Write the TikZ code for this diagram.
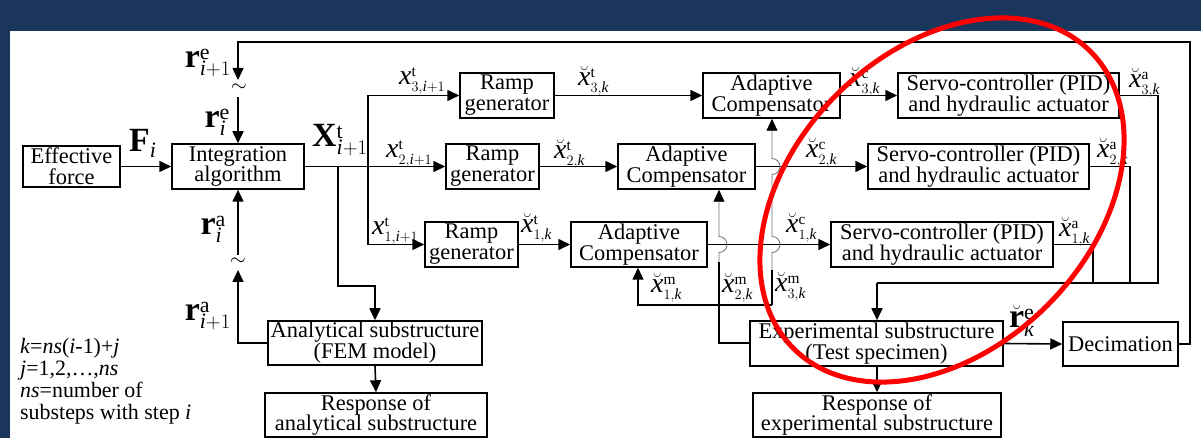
\documentclass[tikz,border=0pt]{standalone}
\usepackage{fontspec}
\setmainfont{Liberation Serif}
\usetikzlibrary{arrows.meta}
\definecolor{bgblue}{RGB}{27,54,93}
\DeclareMathSizes{34}{34}{22}{16}
\DeclareMathSizes{28}{28}{15.5}{11}
\newcommand\xbr[2]{$\breve{\mathit{x}}^{\mathrm{#1}}_{#2,\mathit{k}}$}
\newcommand\xti[2]{$\mathit{x}^{\mathrm{#1}}_{#2,\mathit{i}+1}$}
\tikzset{
  box/.style={draw, line width=1.5bp, inner sep=0pt, align=center,
    font=\fontsize{22.5}{21}\selectfont, minimum height=45bp},
  conn/.style={line width=1.6bp},
  arr/.style={conn, -{Triangle[length=12bp,width=11bp]}},
  thinc/.style={line width=0.8bp, black!55, -{Triangle[length=12bp,width=11bp,black]}},
  lbl/.style={font=\fontsize{22}{22}\selectfont, inner sep=0pt},
  big/.style={font=\fontsize{34}{34}\selectfont, inner sep=0pt},
  tl/.style={font=\fontsize{28}{28}\selectfont, inner sep=0pt, anchor=base west},
}
\begin{document}
\begin{tikzpicture}[x=1bp,y=-1bp]
\useasboundingbox (0,0) rectangle (1201,438);
\fill[bgblue] (0,0) rectangle (1201,438);
\fill[white] (10,31) rectangle (1201,438);

% boxes
\node[box, minimum width=97bp, minimum height=41bp] (eff) at (71.5,166.5) {Effective\\force};
\node[box, minimum width=132bp] (integ) at (238,166.5) {Integration\\algorithm};
\node[box, minimum width=94bp] (ramp3) at (507,95.5) {Ramp\\generator};
\node[box, minimum width=93bp] (ramp2) at (492.5,166.5) {Ramp\\generator};
\node[box, minimum width=93bp] (ramp1) at (471.5,244.5) {Ramp\\generator};
\node[box, minimum width=137bp] (adap3) at (771.5,95.5) {Adaptive\\Compensator};
\node[box, minimum width=137bp] (adap2) at (686.5,166.5) {Adaptive\\Compensator};
\node[box, minimum width=136bp] (adap1) at (639,244.5) {Adaptive\\Compensator};
\node[box, minimum width=221bp] (servo3) at (1008.5,95.5) {Servo-controller (PID)\\and hydraulic actuator};
\node[box, minimum width=221bp] (servo2) at (978.5,166.5) {Servo-controller (PID)\\and hydraulic actuator};
\node[box, minimum width=222bp] (servo1) at (942,244.5) {Servo-controller (PID)\\and hydraulic actuator};
\node[box, minimum width=214bp, minimum height=44bp] (anal) at (375,343) {Analytical substructure\\(FEM model)};
\node[box, minimum width=222bp, minimum height=44bp] (respA) at (376,415) {Response of\\analytical substructure};
\node[box, minimum width=253bp] (exper) at (876.5,343.5) {Experimental substructure\\(Test specimen)};
\node[box, minimum width=115bp, minimum height=44bp] (decim) at (1120.5,344) {Decimation};
\node[box, minimum width=248bp, minimum height=44bp] (respE) at (877,415) {Response of\\experimental substructure};

% coordinates
\coordinate (reTop) at (238,80);
\coordinate (reMid) at (238,97);
\coordinate (raBot) at (238,270);
\coordinate (raMid) at (238,255);
\coordinate (bx) at (368,166.5);
\coordinate (ba) at (338,166.5);
\coordinate (baC) at (338,286);
\coordinate (c3) at (1158,283);
\coordinate (c2) at (1130,283);
\coordinate (c1) at (1093,283);
\coordinate (cA) at (877,283);
\coordinate (mtwo) at (719,343);
\coordinate (mj) at (772,305);
\coordinate (mone) at (638,305);

% connectors
\draw[arr] (eff.east) -- (integ.west);
\draw[arr] (decim.east) -- ++(11,0) |- (238,42) -- (reTop);
\draw[arr] (reMid) -- (integ.north);
\draw[arr] (anal.west) -| (raBot);
\draw[arr] (raMid) -- (integ.south);
\draw[conn] (integ.east) -- (bx);
\draw[arr] (bx) |- (ramp3.west);
\draw[arr] (bx) -- (ramp2.west);
\draw[arr] (bx) |- (ramp1.west);
\draw[arr] (ba) -- (baC) -| (anal.north);
\draw[arr] (anal.south) -- (respA.north);
\draw[arr] (ramp3.east) -- (adap3.west);
\draw[arr] (ramp2.east) -- (adap2.west);
\draw[arr] (ramp1.east) -- (adap1.west);
\draw[arr] (adap3.east) -- (servo3.west);
\draw[arr] (adap2.east) -- (servo2.west);
\draw[arr] (adap1.east) -- (servo1.west);
\draw[conn] (servo3.east) -| (c3) -- (cA);
\draw[conn] (servo2.east) -| (c2);
\draw[conn] (servo1.east) -| (c1);
\draw[arr] (cA) -- (exper.north -| cA);
\draw[arr] (exper.east) -- (decim.west);
\draw[arr] (exper.south -| cA) -- (respE.north -| cA);
% measured feedback
\draw[conn] (exper.west |- mtwo) -- (mtwo) -- (719,262);
\draw[thinc] (719,262) -- (719,252.5) arc[start angle=90,end angle=-90,radius=8] -- (adap2.south -| mtwo);
\draw[arr] (mj) -- (mone) -- (adap1.south -| mone);
\draw[conn] (mj) -- (772,270);
\draw[thinc] (772,270) -- (772,252.5) arc[start angle=90,end angle=-90,radius=8]
  -- (772,174.5) arc[start angle=90,end angle=-90,radius=8] -- (adap3.south -| mj);

% labels
\node[big, anchor=base west] (lF) at (129,152) {$\mathbf{F}_{\mathit{i}}$};
\node[big, anchor=base east] (lre1) at (231,68) {$\mathbf{r}^{\mathrm{e}}_{\mathit{i}+1}$};
\node[big, anchor=base east] (lre0) at (230,128) {$\mathbf{r}^{\mathrm{e}}_{\mathit{i}}$};
\node[big, anchor=base east] (lra0) at (226,235) {$\mathbf{r}^{\mathrm{a}}_{\mathit{i}}$};
\node[big, anchor=base east] (lra1) at (231,321) {$\mathbf{r}^{\mathrm{a}}_{\mathit{i}+1}$};
\node[lbl] (tl1) at (239,88) {$\sim$};
\node[lbl] (tl2) at (238,262) {$\sim$};
\node[big, anchor=base west] (lX) at (312,147) {$\mathbf{X}^{\mathrm{t}}_{\mathit{i}+1}$};
\node[tl] (l31) at (399,85) {\xti{t}{3}};
\node[tl] (l21) at (386,158) {\xti{t}{2}};
\node[tl] (l11) at (372,235) {\xti{t}{1}};
\node[tl] (lt3) at (578,86) {\xbr{t}{3}};
\node[tl] (lt2) at (554,159) {\xbr{t}{2}};
\node[tl] (lt1) at (521,233) {\xbr{t}{1}};
\node[tl] (lc3) at (849,87) {\xbr{c}{3}};
\node[tl] (lc2) at (806,158) {\xbr{c}{2}};
\node[tl] (lc1) at (786,233) {\xbr{c}{1}};
\node[tl] (la3) at (1129,88) {\xbr{a}{3}};
\node[tl] (la2) at (1097,158) {\xbr{a}{2}};
\node[tl] (la1) at (1059,237) {\xbr{a}{1}};
\node[tl] (lm1) at (651,293) {\xbr{m}{1}};
\node[tl] (lm2) at (722,293) {\xbr{m}{2}};
\node[tl] (lm3) at (775,292) {\xbr{m}{3}};
\node[big, anchor=base west] (lrk) at (1009,328) {$\breve{\mathbf{r}}^{\mathrm{e}}_{\mathit{k}}$};
\node[lbl, anchor=north west, align=left, font=\fontsize{22}{22}\selectfont] (note) at (20,338)
  {\textit{k}=\textit{ns}(\textit{i}-1)+\textit{j}\\
   \textit{j}=1,2,\ldots,\textit{ns}\\
   \textit{ns}=number of\\
   substeps with step \textit{i}};

% red ellipse
\draw[red, line width=5bp, rotate around={45:(942,200)}] (942,200) ellipse [x radius=210, y radius=149];
\end{tikzpicture}
\end{document}
